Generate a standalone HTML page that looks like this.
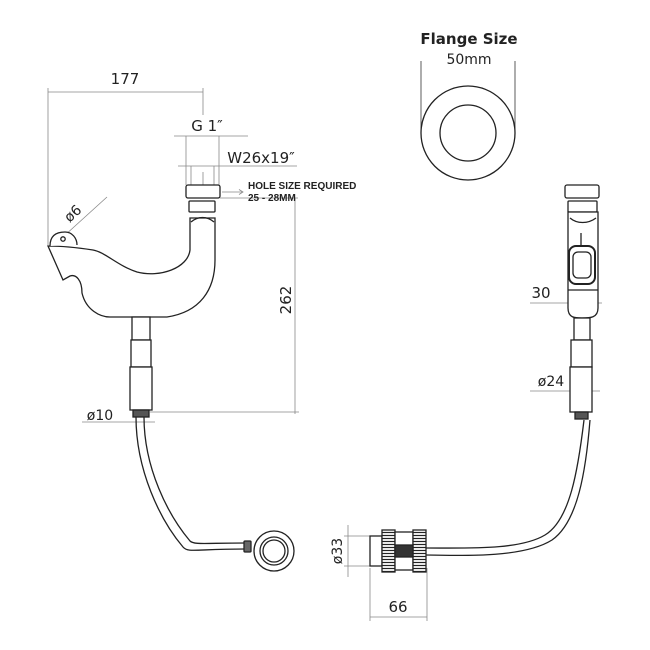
<!DOCTYPE html>
<html><head><meta charset="utf-8"><style>
html,body{margin:0;padding:0;background:#fff;}
svg{display:block;}
text{font-family:"DejaVu Sans","Liberation Sans",sans-serif;fill:#222;}
</style></head><body>
<svg width="650" height="650" viewBox="0 0 650 650" xmlns="http://www.w3.org/2000/svg">
<defs>
<pattern id="kn" width="2.5" height="3" patternUnits="userSpaceOnUse">
<rect width="2.5" height="3" fill="#fff"/>
<line x1="0" y1="1.5" x2="2.5" y2="1.5" stroke="#222" stroke-width="1.2"/>
</pattern>
</defs>
<g fill="none" stroke="#888" stroke-width="0.8">
<line x1="48" y1="92" x2="203" y2="92"/>
<line x1="48" y1="88" x2="48" y2="245"/>
<line x1="203" y1="88" x2="203" y2="115"/>
<line x1="174" y1="136" x2="248" y2="136"/>
<line x1="186" y1="136" x2="186" y2="185"/>
<line x1="219" y1="136" x2="219" y2="185"/>
<line x1="178" y1="166" x2="297" y2="166"/>
<line x1="191" y1="166" x2="191" y2="185"/>
<line x1="214" y1="166" x2="214" y2="185"/>
<line x1="203" y1="172" x2="203" y2="185"/>
<line x1="222" y1="192" x2="242" y2="192"/>
<polyline points="239,189.5 243,192 239,194.5"/>
<line x1="295" y1="198" x2="295" y2="414"/>
<line x1="150" y1="412" x2="299" y2="412"/>
<line x1="220" y1="198" x2="298" y2="198"/>
<line x1="53" y1="246" x2="107" y2="197"/>
<line x1="82" y1="422" x2="155" y2="422"/>
<line x1="421" y1="61" x2="421" y2="133" stroke="#333"/>
<line x1="515" y1="61" x2="515" y2="133" stroke="#333"/>
<line x1="530" y1="303" x2="602" y2="303"/>
<line x1="530" y1="391" x2="600" y2="391"/>
<line x1="348" y1="525" x2="348" y2="577"/>
<line x1="344" y1="536" x2="372" y2="536"/>
<line x1="344" y1="566" x2="372" y2="566"/>
<line x1="370" y1="617" x2="427" y2="617"/>
<line x1="370" y1="568" x2="370" y2="621"/>
<line x1="427" y1="568" x2="427" y2="621"/>
</g>

<g fill="#fff" stroke="#222" stroke-width="1.3">
<circle cx="468" cy="133" r="47"/>
<circle cx="468" cy="133" r="28"/>
<path d="M190,218 L190,250 C188,268 160,278 137,272 C118,266 105,252 93,250 C80,248 62,246 48,246 L63,280 L70,276 C76,274 82,280 82,293 C86,310 100,317 110,317 L167,317 C200,312 215,290 215,260 L215,218 Z"/>
<path d="M50,246 C50,236 56,232 65,232 C72,232 77,238 77,245"/>
<circle cx="63" cy="239" r="2.2"/>
<path d="M191,222 C198,216 207,216 214,222" fill="none"/>
<rect x="189" y="201" width="26" height="11" rx="1"/>
<rect x="186" y="185" width="34" height="13" rx="2"/>
<rect x="132" y="317" width="18" height="23"/>
<rect x="131" y="340" width="20" height="27"/>
<rect x="130" y="367" width="22" height="43"/>
<rect x="133" y="410" width="16" height="7" fill="#555"/>
<path d="M136,417 C136,470 160,520 183,547 C188,553 195,549 245,549" fill="none"/>
<path d="M144,417 C144,468 168,515 190,541 C194,545 205,543 245,543" fill="none"/>
<rect x="244" y="541" width="7" height="11" rx="1" fill="#666"/>
<circle cx="274" cy="551" r="20"/>
<circle cx="274" cy="551" r="14"/>
<circle cx="274" cy="551" r="11"/>
<path d="M426,548 C470,548 520,550 545,535 C570,520 578,470 584,420" fill="none"/>
<path d="M426,555 C470,556 525,557 552,540 C578,522 586,470 590,420" fill="none"/>
<rect x="370" y="536" width="12" height="30"/>
<rect x="382" y="530" width="13" height="42" fill="url(#kn)"/>
<rect x="395" y="532" width="18" height="38"/>
<rect x="413" y="530" width="13" height="42" fill="url(#kn)"/>
<rect x="395" y="545" width="18" height="12" fill="#333"/>
<rect x="565" y="185" width="34" height="13" rx="2"/>
<rect x="568" y="201" width="29" height="11" rx="1"/>
<path d="M568,212 L568,308 C568,318 575,318 582,318 C590,318 598,318 598,308 L598,212 Z"/>
<path d="M570,218 C577,224 588,224 596,218" fill="none"/>
<rect x="569" y="246" width="26" height="38" rx="7" stroke-width="2"/>
<rect x="573" y="252" width="18" height="26" rx="5"/>
<line x1="581" y1="233" x2="581" y2="246"/>
<line x1="568" y1="290" x2="598" y2="290"/>
<rect x="574" y="318" width="16" height="22"/>
<rect x="571" y="340" width="21" height="27"/>
<rect x="570" y="367" width="22" height="45"/>
<rect x="575" y="412" width="13" height="7" fill="#555"/>
</g>

<text x="125" y="84" font-size="15" text-anchor="middle">177</text>
<text x="207" y="131" font-size="15" text-anchor="middle">G 1″</text>
<text x="261" y="163" font-size="15" text-anchor="middle">W26x19″</text>
<text x="248" y="189" font-size="10" font-weight="bold" style="font-family:'Liberation Sans',sans-serif">HOLE SIZE REQUIRED</text>
<text x="248" y="201" font-size="10" font-weight="bold" style="font-family:'Liberation Sans',sans-serif">25 - 28MM</text>
<text transform="translate(291,300) rotate(-90)" font-size="15" text-anchor="middle">262</text>
<text transform="translate(76,217) rotate(-42)" font-size="14" text-anchor="middle">ø6</text>
<text x="100" y="420" font-size="14" text-anchor="middle">ø10</text>
<text x="469" y="44" font-size="15" font-weight="bold" text-anchor="middle">Flange Size</text>
<text x="469" y="64" font-size="14" text-anchor="middle">50mm</text>
<text x="541" y="298" font-size="15" text-anchor="middle">30</text>
<text x="551" y="386" font-size="14" text-anchor="middle">ø24</text>
<text transform="translate(342,551) rotate(-90)" font-size="14" text-anchor="middle">ø33</text>
<text x="398" y="612" font-size="15" text-anchor="middle">66</text>
</svg>
</body></html>
